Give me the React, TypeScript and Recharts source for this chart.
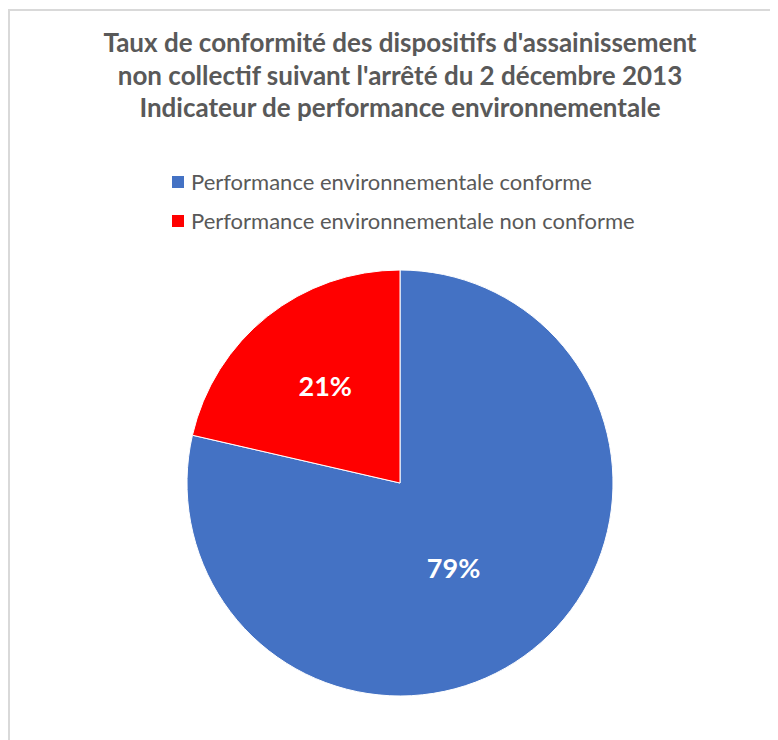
import React from "react";
import { PieChart, Pie, Cell, Legend } from "recharts";

const titleLines = [
  "Taux de conformité des dispositifs d'assainissement",
  "non collectif suivant l'arrêté du 2 décembre 2013",
  "Indicateur de performance environnementale",
];
const categories = [
  "Performance environnementale conforme",
  "Performance environnementale non conforme",
];
const values = [78.6, 21.4];
const colors = ["#4472C4", "#FF0000"];

const data = categories.map((name, i) => ({ name, value: values[i] }));

const RAD = Math.PI / 180;
const labelFactor = [0.468, 0.576];
const labelAngleShift = [-6, -1];

const renderLabel = (props: any) => {
  const { cx, cy, midAngle, outerRadius, percent, index } = props;
  const r = outerRadius * labelFactor[index];
  const a = midAngle + labelAngleShift[index];
  const x = cx + r * Math.cos(-a * RAD);
  const y = cy + r * Math.sin(-a * RAD);
  return (
    <text
      x={x}
      y={y}
      fill="#ffffff"
      textAnchor="middle"
      dominantBaseline="central"
      fontFamily="Lato, 'Open Sans', sans-serif"
      fontWeight={700}
      fontSize={27}
    >
      {`${Math.round(percent * 100)}%`}
    </text>
  );
};

const renderLegend = (props: any) => {
  const { payload } = props;
  return (
    <div>
      {payload.map((entry: any, i: number) => (
        <div
          key={i}
          style={{ display: "flex", alignItems: "center", height: 39 }}
        >
          <span
            style={{
              display: "inline-block",
              width: 12,
              height: 12,
              background: entry.color,
              marginRight: 7,
            }}
          />
          <span
            style={{
              fontFamily: "Lato, 'Open Sans', sans-serif",
              fontSize: 22,
              color: "#595959",
              whiteSpace: "nowrap",
            }}
          >
            {entry.value}
          </span>
        </div>
      ))}
    </div>
  );
};

export default function App() {
  return (
    <div
      style={{
        position: "relative",
        width: 790,
        height: 760,
        borderTop: "2px solid #d9d9d9",
        borderLeft: "2px solid #d9d9d9",
        marginTop: 1,
        background: "#ffffff",
      }}
    >
      <div
        style={{
          position: "absolute",
          left: 0,
          top: 15,
          width: 780,
          textAlign: "center",
          fontFamily: "Lato, 'Open Sans', sans-serif",
          fontWeight: 700,
          fontSize: 26,
          lineHeight: "32.5px",
          color: "#595959",
        }}
      >
        {titleLines.map((t, i) => (
          <div key={i}>{t}</div>
        ))}
      </div>
      <PieChart width={770} height={730}>
        <Legend
          content={renderLegend}
          layout="vertical"
          wrapperStyle={{ position: "absolute", left: 162, top: 151, width: 520 }}
        />
        <Pie
          data={data}
          dataKey="value"
          nameKey="name"
          cx={385}
          cy={467}
          outerRadius={213}
          startAngle={90}
          endAngle={-270}
          stroke="#ffffff"
          strokeWidth={1}
          label={renderLabel}
          labelLine={false}
          isAnimationActive={false}
        >
          {data.map((d, i) => (
            <Cell key={d.name} fill={colors[i]} />
          ))}
        </Pie>
      </PieChart>
    </div>
  );
}
